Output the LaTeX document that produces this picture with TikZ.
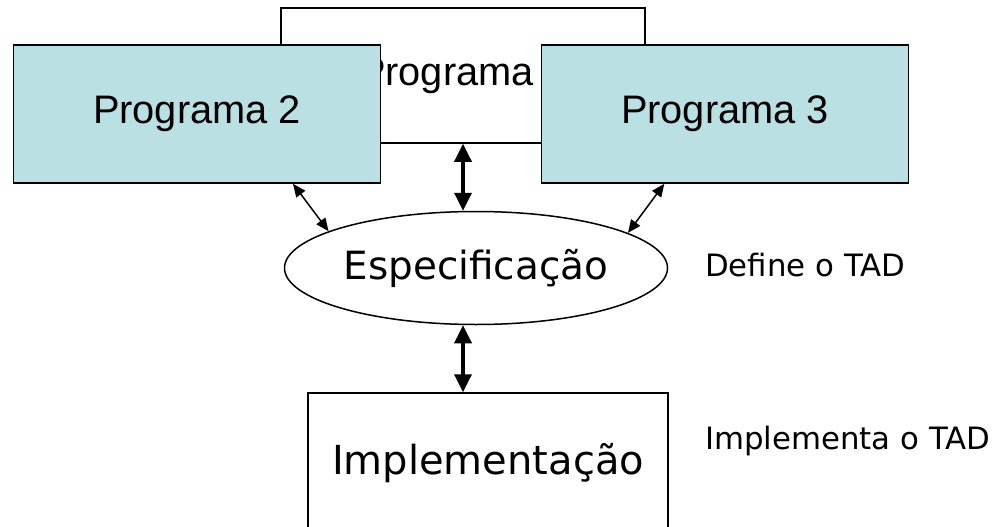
\documentclass[tikz,border=0pt]{standalone}
\usepackage{fontspec}
\usetikzlibrary{shapes.geometric,arrows.meta}
\newfontfamily\arialFont{Liberation Sans}
\newfontfamily\verdanaFont{DejaVu Sans}
\definecolor{progBlue}{RGB}{187,224,227}
\tikzstyle{progBox}=[shape = rectangle, draw, line width = 1.5pt, minimum width = 364pt, minimum height = 135pt, inner sep = 0pt, font = \arialFont\fontsize{39.8}{47}\selectfont]
\tikzstyle{blueBox}=[progBox, fill = progBlue, minimum width = 367pt, minimum height = 138pt]
\tikzstyle{specEllipse}=[shape = ellipse, draw, line width = 1.5pt, fill = white, minimum width = 383pt, minimum height = 113pt, inner sep = 0pt, font = \verdanaFont\fontsize{38.9}{46}\selectfont]
\tikzstyle{implBox}=[shape = rectangle, draw, line width = 1.5pt, minimum width = 360pt, minimum height = 140pt, inner sep = 0pt, font = \verdanaFont\fontsize{40}{48}\selectfont]
\tikzstyle{noteText}=[inner sep = 0pt, anchor = west, font = \verdanaFont\fontsize{30.8}{37}\selectfont]
\tikzstyle{bigArrow}=[line width = 3.5pt, {Triangle[length = 18pt, width = 17pt]}-{Triangle[length = 18pt, width = 17pt]}]
\tikzstyle{thinArrow}=[line width = 1.5pt, {Triangle[length = 13pt, width = 11pt]}-{Triangle[length = 13pt, width = 11pt]}]

\begin{document}
\begin{tikzpicture}[x = 1pt, y = -1pt]
\useasboundingbox (0,0) rectangle (993,527);
\clip (0,0) rectangle (993,527);
% programas
\node[progBox, fill = white] (prog1) at (463,75.5) {Programa 1};
\node[blueBox] (prog2) at (197,114) {Programa 2};
\node[blueBox] (prog3) at (725,114) {Programa 3};
% TAD
\node[specEllipse] (espec) at (476,268) {Especificação};
\node[implBox] (impl) at (488,463) {Implementação};
\node[noteText] (noteSpec) at (705,265) {Define o TAD};
\node[noteText] (noteImpl) at (705,441) {Implementa o TAD};
% ligacoes
\draw[bigArrow] (prog1.south) -- (prog1.south |- espec.north);
\draw[bigArrow] (espec.south -| prog1.south) -- (impl.north -| prog1.south);
\draw[thinArrow] (prog2.-36) -- (espec.166);
\draw[thinArrow] (prog3.229) -- (espec.13);
\end{tikzpicture}
\end{document}
